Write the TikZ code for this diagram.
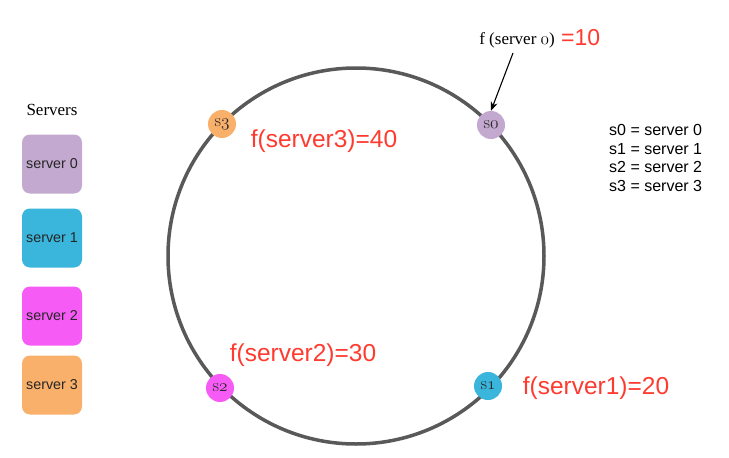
\documentclass[tikz,border=0pt]{standalone}
\usepackage{fontspec}
\setsansfont{Liberation Sans}
\newfontfamily\serifb{Liberation Serif}
\usetikzlibrary{arrows.meta}
\newcommand\osn[1]{{\usefont{OML}{cmm}{m}{it}#1}}
\definecolor{ringgray}{HTML}{595959}
\definecolor{lav}{HTML}{C3A8CF}
\definecolor{cyanb}{HTML}{3AB5DB}
\definecolor{magb}{HTML}{F65CF5}
\definecolor{orab}{HTML}{F9B06B}
\definecolor{redt}{HTML}{FF3B30}
\begin{document}
\begin{tikzpicture}[x=1pt,y=-1pt,
  srvbox/.style={rounded corners=8pt,minimum width=60pt,minimum height=59pt,inner sep=0pt,font=\sffamily\fontsize{14.3}{16}\selectfont,text=black!85},
  ringnode/.style={circle,minimum size=28pt,inner sep=0pt,font=\fontsize{18}{18}\selectfont,text=black!85},
  redlab/.style={text=redt,font=\sffamily\fontsize{24.5}{26}\selectfont,inner sep=0pt},
  legend/.style={font=\sffamily\fontsize{16}{18.7}\selectfont,align=left,inner sep=0pt}]
\useasboundingbox (0,0) rectangle (729,458);
\fill[white] (0,0) rectangle (729,458);
\node[font=\serifb\fontsize{17}{20}\selectfont] (title) at (52,110) {Servers};
\node[srvbox,fill=lav] (b0) at (52,164) {server 0};
\node[srvbox,fill=cyanb] (b1) at (52,238) {server 1};
\node[srvbox,fill=magb] (b2) at (52,316) {server 2};
\node[srvbox,fill=orab] (b3) at (52,385) {server 3};
\coordinate (c) at (356,256);
\draw[ringgray,line width=3.5pt] (c) circle (188);
\node[ringnode,fill=lav] (s0) at (491,125) {s\osn{0}};
\node[ringnode,fill=cyanb] (s1) at (488,386) {s\osn{1}};
\node[ringnode,fill=magb] (s2) at (220,388) {s\osn{2}};
\node[ringnode,fill=orab] (s3) at (222,124) {s\osn{3}};
\node[font=\serifb\fontsize{17}{19}\selectfont,anchor=east,inner sep=0pt] (f0) at (555,40) {f (server \osn{0})};
\node[redlab,font=\sffamily\fontsize{23}{25}\selectfont,anchor=west] (eq10) at (561,38) {=10};
\coordinate (ast) at (513,53);
\draw[-{Stealth[length=9pt,width=7pt]},line width=1.1pt] (ast) -- (s0.north);
\node[redlab] (l3) at (324,141) {f(server3)=40};
\node[redlab] (l2) at (303,355) {f(server2)=30};
\node[redlab] (l1) at (596,388) {f(server1)=20};
\node[legend,anchor=north west] (leg) at (609,124) {s0 = server 0\\s1 = server 1\\s2 = server 2\\s3 = server 3};
\end{tikzpicture}
\end{document}
